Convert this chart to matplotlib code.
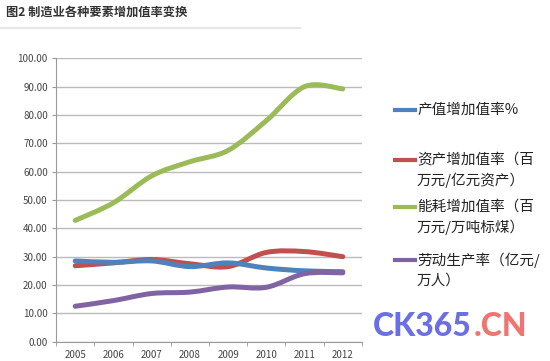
import matplotlib
matplotlib.use("Agg")
import matplotlib.pyplot as plt
import numpy as np
from matplotlib.path import Path
from matplotlib.patches import PathPatch
from matplotlib.lines import Line2D

plt.rcParams['font.family'] = ['Noto Sans CJK SC', 'DejaVu Sans']

# ==================== data ====================
years = ['2005', '2006', '2007', '2008', '2009', '2010', '2011', '2012']
output_rate = [28.5, 28.0, 28.5, 26.5, 27.8, 26.0, 25.0, 24.7]
asset_rate = [26.8, 27.8, 29.0, 27.5, 26.5, 31.5, 31.8, 30.0]
energy_rate = [42.8, 49.0, 58.5, 63.5, 67.5, 78.0, 90.0, 89.2]
labour_rate = [12.5, 14.5, 17.0, 17.5, 19.3, 19.2, 24.0, 24.3]

labels = ['产值增加值率%',
          '资产增加值率（百\n万元/亿元资产）',
          '能耗增加值率（百\n万元/万吨标煤）',
          '劳动生产率（亿元/\n万人）']
colors = ['#4F81BD', '#C0504D', '#9BBB59', '#8064A2']
yticks = [0, 10, 20, 30, 40, 50, 60, 70, 80, 90, 100]
# ==============================================


def smooth_path(xs, ys, tension=1 / 6):
    """Excel 风格平滑线：用 Catmull-Rom 控制点构造三次贝塞尔路径"""
    pts = np.column_stack([xs, ys]).astype(float)
    verts = [pts[0]]
    codes = [Path.MOVETO]
    n = len(pts)
    for i in range(n - 1):
        p0 = pts[max(i - 1, 0)]
        p1 = pts[i]
        p2 = pts[i + 1]
        p3 = pts[min(i + 2, n - 1)]
        c1 = p1 + (p2 - p0) * tension
        c2 = p2 - (p3 - p1) * tension
        verts += [c1, c2, p2]
        codes += [Path.CURVE4] * 3
    return Path(verts, codes)


fig = plt.figure(figsize=(5.5, 3.61), dpi=100)
ax = fig.add_axes([0.102, 0.0535, 0.556, 0.785])

x = np.arange(len(years))
series = [output_rate, asset_rate, energy_rate, labour_rate]
# 绘制顺序：绿、红、蓝、紫
for idx in [2, 1, 0, 3]:
    patch = PathPatch(smooth_path(x, series[idx]), facecolor='none',
                      edgecolor=colors[idx], lw=3.6, capstyle='round',
                      joinstyle='round', zorder=3)
    ax.add_patch(patch)

ax.set_xlim(-0.5, len(years) - 0.5)
ax.set_ylim(0, 100)
ax.set_yticks(yticks)
ax.set_yticklabels([f'{v:.2f}' for v in yticks])
ax.set_xticks(x)
ax.set_xticklabels(years)
ax.set_xticks(np.arange(-0.5, len(years), 1), minor=True)
ax.tick_params(axis='x', which='major', length=0, labelsize=7,
               colors='#444444', pad=6)
ax.tick_params(axis='x', which='minor', length=3, color='#999999')
ax.tick_params(axis='y', length=3, color='#999999', labelsize=7,
               labelcolor='#444444', pad=3)
ax.grid(True, axis='y', color='#BBBBBB', lw=1)
ax.set_axisbelow(True)
for side in ['top', 'right']:
    ax.spines[side].set_visible(False)
ax.spines['left'].set_color('#999999')
ax.spines['bottom'].set_color('#999999')

# 图例：手动放置，行距与原图一致
H = 361.0
legend_y = [110, 160, 207, 260]
for lab, c, ypix in zip(labels, colors, legend_y):
    yf = 1 - ypix / H
    fig.add_artist(Line2D([395 / 550, 415 / 550], [yf, yf], color=c, lw=3))
    fig.text(417 / 550, yf + 7 / H, lab, fontsize=10.5, color='#222222',
             va='top', ha='left', linespacing=1.45)

# 标题
fig.text(0.01, 0.965, '图2 制造业各种要素增加值率变换', fontsize=8.8,
         fontweight='bold', color='#333333', va='center', ha='left')
fig.add_artist(Line2D([0.0, 0.545], [0.922, 0.922], color='#E6E6E6', lw=1.5))

# 水印
fig.text(373 / 550, 1 - 327 / H, 'CK365', fontsize=23, fontweight='black',
         color='#6B6FE6', va='center', ha='left', family='Lato')
fig.text(474 / 550, 1 - 327 / H, '.CN', fontsize=23, fontweight='black',
         color='#F07470', va='center', ha='left', family='Lato')

fig.savefig('out.png', dpi=100, facecolor='white')
